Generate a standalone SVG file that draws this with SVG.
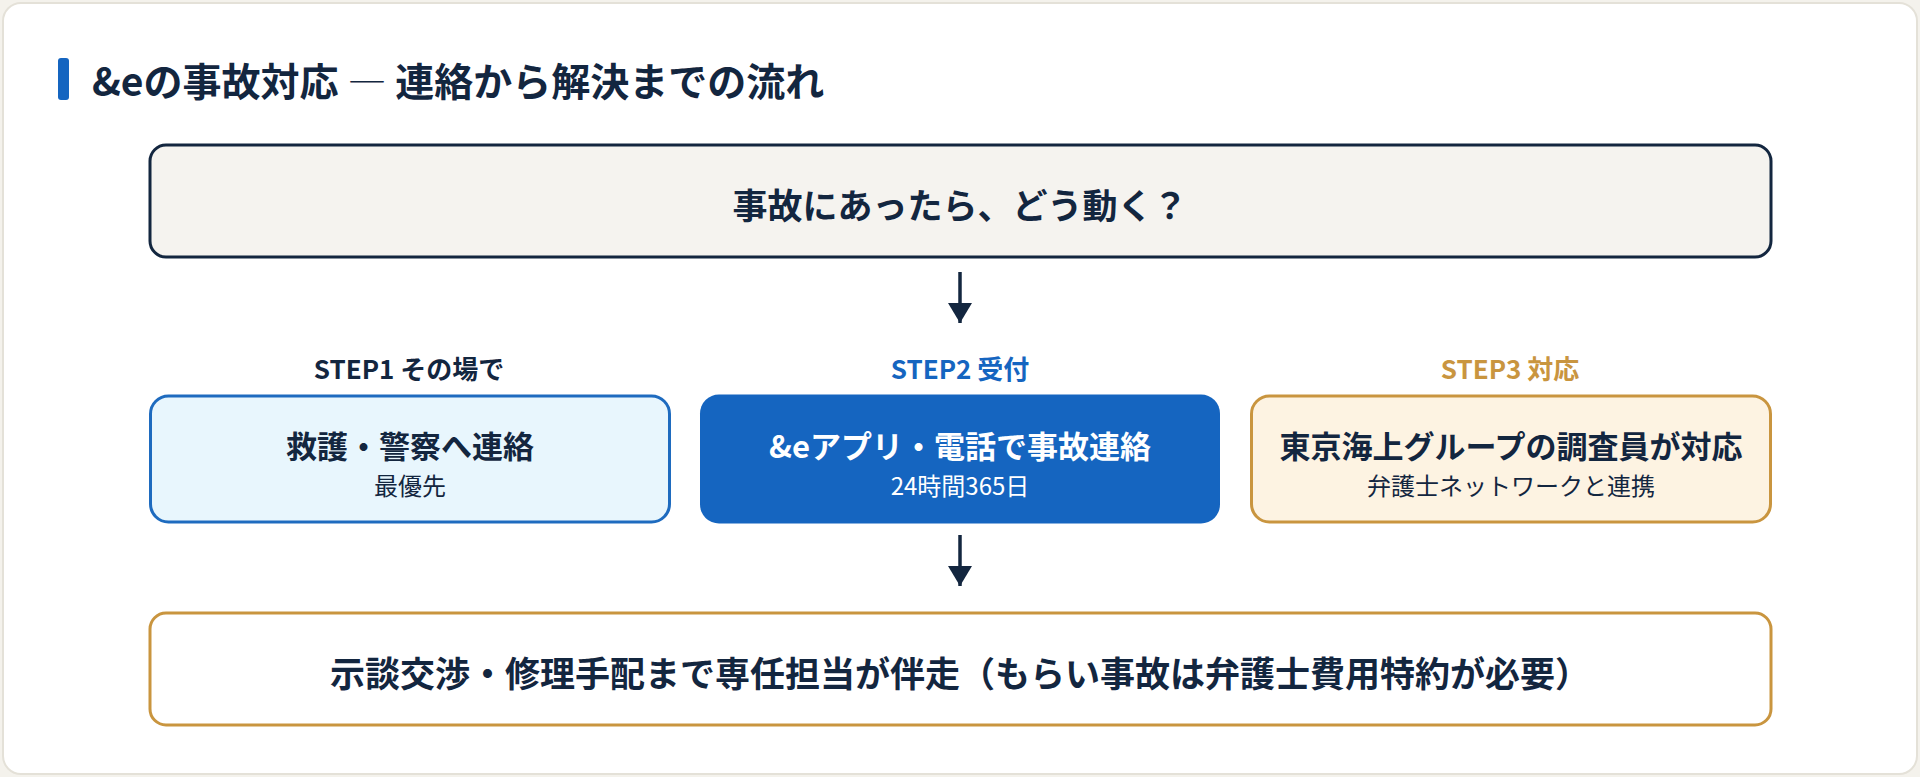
<svg xmlns="http://www.w3.org/2000/svg" width="1920" height="777" viewBox="0 0 1920 777">
<defs>
<marker id="ah" viewBox="0 0 20 24" refX="20" refY="12" markerWidth="20" markerHeight="24" markerUnits="userSpaceOnUse" orient="auto">
<path d="M0,0 L20,12 L0,24 Z" fill="#13263f"/>
</marker>
<style>
.t{font-family:"Noto Sans CJK JP","Noto Sans",sans-serif;font-weight:700;fill:#13263f;text-anchor:middle;dominant-baseline:central}
.s{font-family:"Noto Sans CJK JP","Noto Sans",sans-serif;font-weight:400;fill:#13263f;text-anchor:middle;dominant-baseline:central;font-size:24px}
.big{font-size:35px}
.mid{font-size:31px}
.step{font-size:26px}
.conn{stroke:#13263f;stroke-width:3.5;fill:none}
</style>
</defs>
<rect x="0" y="0" width="1920" height="777" fill="#f4f2ec"/>
<rect x="3" y="3" width="1914" height="771" rx="18" fill="#ffffff" stroke="#e4e1d8" stroke-width="2"/>
<g id="title">
<rect x="58" y="58" width="11" height="42" rx="3" fill="#1565c0"/>
<text x="92" y="79" class="t" style="text-anchor:start;font-size:39px">&amp;eの事故対応 <tspan style="font-weight:300">―</tspan> 連絡から解決までの流れ</text>
</g>
<g id="question">
<rect x="150" y="145" width="1621" height="112" rx="16" fill="#f5f3ef" stroke="#13263f" stroke-width="3"/>
<text x="960" y="203" class="t big">事故にあったら、どう動く？</text>
</g>
<g id="step1">
<text x="409" y="367" class="t step">STEP1 その場で</text>
<rect x="150.5" y="396" width="519" height="126" rx="18" fill="#e8f6fd" stroke="#1e6bbf" stroke-width="3"/>
<text x="410" y="444" class="t mid">救護・警察へ連絡</text>
<text x="410" y="484" class="s">最優先</text>
</g>
<g id="step2">
<text x="960" y="367" class="t step" style="fill:#1565c0">STEP2 受付</text>
<rect x="700" y="394.5" width="520" height="129" rx="19" fill="#1565c0"/>
<text x="960" y="444" class="t mid" style="fill:#ffffff">&amp;eアプリ・電話で事故連絡</text>
<text x="960" y="484" class="s" style="fill:#ffffff">24時間365日</text>
</g>
<g id="step3">
<text x="1510" y="367" class="t step" style="fill:#c9953f">STEP3 対応</text>
<rect x="1251.5" y="396" width="519" height="126" rx="18" fill="#fdf3e2" stroke="#c9953f" stroke-width="3"/>
<text x="1511" y="444" class="t mid">東京海上グループの調査員が対応</text>
<text x="1511" y="484" class="s">弁護士ネットワークと連携</text>
</g>
<g id="result">
<rect x="150" y="613" width="1621" height="112" rx="16" fill="#ffffff" stroke="#c9953f" stroke-width="3"/>
<text x="960" y="671" class="t big">示談交渉・修理手配まで専任担当が伴走（もらい事故は弁護士費用特約が必要）</text>
</g>
<g id="connectors">
<line x1="960" y1="272" x2="960" y2="323" class="conn" marker-end="url(#ah)"/>
<line x1="960" y1="535" x2="960" y2="586" class="conn" marker-end="url(#ah)"/>
</g>
</svg>
